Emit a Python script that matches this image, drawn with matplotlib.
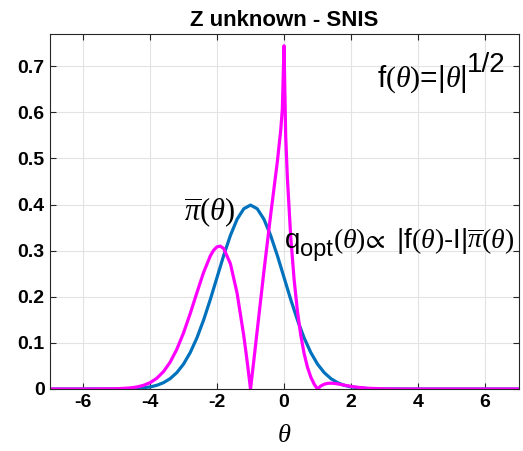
import matplotlib.pyplot as plt

plt.rcParams['font.family'] = ['Liberation Sans', 'DejaVu Sans']
plt.rcParams['mathtext.fontset'] = 'custom'
plt.rcParams['mathtext.rm'] = 'Liberation Serif'
plt.rcParams['mathtext.it'] = 'Liberation Serif:italic'
plt.rcParams['mathtext.sf'] = 'Liberation Sans'
plt.rcParams['mathtext.fallback'] = 'stix'

# target density pi_bar(theta)
theta_pi = [-7, -6, -5, -4.5, -4, -3.8, -3.6, -3.4, -3.2, -3, -2.8, -2.6, -2.4,
            -2.2, -2, -1.8, -1.6, -1.4, -1.2, -1, -0.8, -0.6, -0.4, -0.2, 0,
            0.2, 0.4, 0.6, 0.8, 1, 1.2, 1.4, 1.6, 1.8, 2, 2.5, 3, 4, 7]
pi_bar = [0, 0, 0.0001, 0.0009, 0.0044, 0.0079, 0.0136, 0.0224, 0.0355, 0.054,
          0.079, 0.1109, 0.1497, 0.1942, 0.242, 0.2897, 0.3332, 0.3683, 0.391,
          0.3989, 0.391, 0.3683, 0.3332, 0.2897, 0.242, 0.1942, 0.1497, 0.1109,
          0.079, 0.054, 0.0355, 0.0224, 0.0136, 0.0079, 0.0044, 0.0009, 0.0001,
          0, 0]

# optimal proposal q_opt(theta)
theta_q = [-7, -6, -5, -4.6, -4.4, -4.2, -4, -3.8, -3.6, -3.4, -3.2, -3, -2.8,
           -2.6, -2.4, -2.2, -2.1, -2, -1.9, -1.8, -1.6, -1.4, -1.2, -1.1, -1,
           -0.9, -0.8, -0.6, -0.4, -0.2, -0.1, -0.05, 0, 0.05, 0.1, 0.2, 0.3,
           0.4, 0.5, 0.6, 0.7, 0.8, 0.9, 1, 1.1, 1.2, 1.3, 1.4, 1.5, 1.6, 1.8,
           2, 2.2, 2.5, 3, 3.5, 7]
q_opt = [0, 0, 0.0005, 0.0022, 0.0042, 0.0078, 0.0136, 0.0231, 0.0375, 0.0581,
         0.0861, 0.1216, 0.1636, 0.209, 0.253, 0.2887, 0.3011, 0.3084, 0.3098,
         0.3045, 0.2716, 0.2076, 0.1148, 0.0596, 0, 0.0627, 0.127, 0.2554,
         0.3768, 0.4927, 0.56, 0.6068, 0.7446, 0.549, 0.4584, 0.3303, 0.2385,
         0.1693, 0.1167, 0.0769, 0.0472, 0.0257, 0.0104, 0, 0.0066, 0.0104,
         0.0122, 0.0126, 0.0121, 0.0111, 0.0083, 0.0056, 0.0036, 0.0016, 0.0003,
         0, 0]

xticks = [-6, -4, -2, 0, 2, 4, 6]
yticks = [0, 0.1, 0.2, 0.3, 0.4, 0.5, 0.6, 0.7]


def chain_text(ax, x, y, pieces):
    # pieces: (string, fontsize, vertical shift in points), laid out left to right
    r = ax.figure.canvas.get_renderer()
    dx = 0
    for s, size, dy in pieces:
        t = ax.annotate(s, (x, y), xytext=(dx, dy), textcoords='offset points',
                        fontsize=size, va='baseline', ha='left')
        dx += t.get_window_extent(r).width * 72 / ax.figure.dpi


fig = plt.figure(figsize=(5.23, 4.51), dpi=100)
ax = fig.add_axes([0.0947, 0.1375, 0.8967, 0.7871])

ax.plot(theta_pi, pi_bar, color='#0072BD', linewidth=2.3)
ax.plot(theta_q, q_opt, color='#FF00FF', linewidth=2.3)

ax.set_xlim(-7, 7)
ax.set_ylim(0, 0.77)
ax.set_xticks(xticks)
ax.set_yticks(yticks)
ax.set_xticklabels([str(t) for t in xticks], fontweight='bold', fontsize=14)
ax.set_yticklabels(['0'] + ['%.1f' % t for t in yticks[1:]], fontweight='bold', fontsize=14)
ax.grid(True, color='#e3e3e3', linewidth=0.8)
ax.set_axisbelow(True)
ax.tick_params(direction='in', top=True, right=True, length=4, color='#262626')
for s in ax.spines.values():
    s.set_color('#262626')
    s.set_linewidth(0.8)

ax.set_title('Z unknown - SNIS', fontweight='bold', fontsize=16, pad=6)
ax.set_xlabel(r'$\theta$', fontsize=19, labelpad=9)

ax.text(-3.0, 0.365, r'$\overline{\pi}(\theta)$', fontsize=22)
chain_text(ax, 0.03, 0.306, [
    ('q', 20, 0),
    ('opt', 17, -6),
    (r'$(\theta)\!\propto$ |f$(\theta)$-I|$\overline{\pi}(\theta)$', 20, 0),
])
chain_text(ax, 2.78, 0.655, [
    (r'f$(\theta)$=|$\theta$|', 21.5, 0),
    ('1/2', 20, 11),
])

fig.savefig('out.png', dpi=100)
